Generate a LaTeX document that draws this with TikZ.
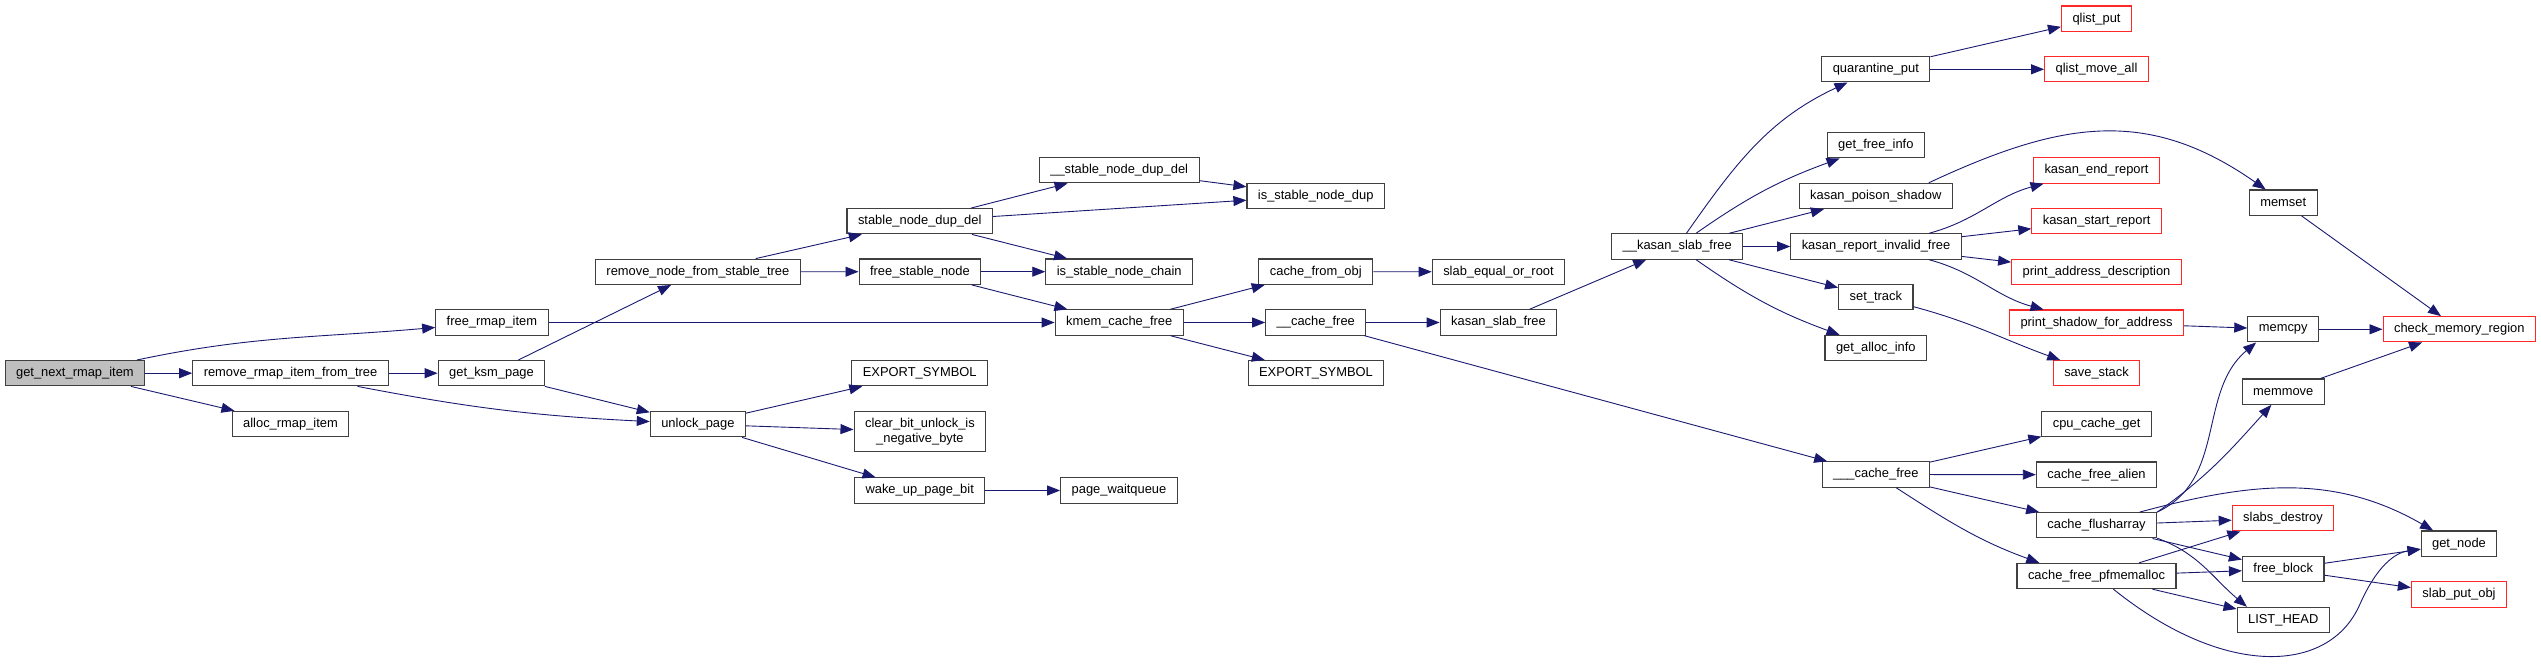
\documentclass[tikz,border=0pt]{standalone}
\usepackage{fontspec}
\setmainfont{Liberation Sans}
\usepackage{tikz}
\usetikzlibrary{arrows.meta}

\definecolor{edgeblue}{RGB}{25,25,112}
\definecolor{boxgray}{RGB}{191,191,191}
\definecolor{boxred}{RGB}{255,40,40}

\begin{document}
\begin{tikzpicture}[
    x=1pt, y=1pt,
    func/.style={rectangle, draw=black!75, line width=1.1pt, fill=white, inner xsep=11pt, inner ysep=0pt, minimum height=25.3pt, align=center, font=\fontsize{12.9}{15.3}\selectfont},
    ext/.style={func, draw=boxred},
    root/.style={func, fill=boxgray},
    call/.style={draw=edgeblue, line width=0.9pt, -{Triangle[length=13pt, width=10pt]}}
]
\useasboundingbox (0,0) rectangle (2541,664);

% Caller and ksm side
\node[root] (getnext) at (74.9,290.8) {get\_next\_rmap\_item};
\node[func] (rmitem) at (290.5,290.8) {remove\_rmap\_item\_from\_tree};
\node[func] (allocrmap) at (290.5,240) {alloc\_rmap\_item};
\node[func] (freermap) at (491.9,341.5) {free\_rmap\_item};
\node[func] (getksm) at (491.5,290.8) {get\_ksm\_page};
\node[func] (rmnode) at (697.9,392.2) {remove\_node\_from\_stable\_tree};
\node[func] (unlock) at (697.9,239.8) {unlock\_page};
\node[func] (dupdel) at (919.7,442.8) {stable\_node\_dup\_del};
\node[func] (freestable) at (919.9,392.3) {free\_stable\_node};
\node[func] (exportA) at (919.7,290.8) {EXPORT\_SYMBOL};
\node[func, minimum height=40.3pt] (clearbit) at (919.9,232.2) {clear\_bit\_unlock\_is\\\_negative\_byte};
\node[func] (wakeup) at (919.7,173.5) {wake\_up\_page\_bit};
\node[func] (dupdelint) at (1119.2,493.8) {\_\_stable\_node\_dup\_del};
\node[func] (isdup) at (1315.7,468.2) {is\_stable\_node\_dup};
\node[func] (ischain) at (1119.2,392.3) {is\_stable\_node\_chain};
\node[func] (kmemfree) at (1119.2,341.5) {kmem\_cache\_free};
\node[func] (waitq) at (1119,173.5) {page\_waitqueue};

% Slab free path
\node[func] (fromobj) at (1315.8,392.3) {cache\_from\_obj};
\node[func] (cachefree) at (1315.8,341.5) {\_\_cache\_free};
\node[func] (exportB) at (1316,290.8) {EXPORT\_SYMBOL};
\node[func] (slabeq) at (1498.5,392.2) {slab\_equal\_or\_root};
\node[func] (kslabfree) at (1498.5,341.5) {kasan\_slab\_free};
\node[func] (kslabfreeint) at (1677.2,417.5) {\_\_kasan\_slab\_free};
\node[func] (quarput) at (1875.8,594.7) {quarantine\_put};
\node[func] (getfree) at (1875.8,518.7) {get\_free\_info};
\node[func] (poison) at (1875.8,468) {kasan\_poison\_shadow};
\node[func] (invalid) at (1876,417.5) {kasan\_report\_invalid\_free};
\node[func] (settrack) at (1875.8,366.7) {set\_track};
\node[func] (getalloc) at (1875.8,316) {get\_alloc\_info};
\node[func] (cachefreeint) at (1875.8,189.5) {\_\_\_cache\_free};

% Right columns
\node[ext] (qput) at (2096.5,645.3) {qlist\_put};
\node[ext] (qmove) at (2096.5,594.7) {qlist\_move\_all};
\node[ext] (endrep) at (2096.5,493.5) {kasan\_end\_report};
\node[ext] (startrep) at (2096.6,442.7) {kasan\_start\_report};
\node[ext] (addrdesc) at (2096.5,392) {print\_address\_description};
\node[ext] (shadow) at (2096.5,341.3) {print\_shadow\_for\_address};
\node[ext] (savestack) at (2096.5,290.7) {save\_stack};
\node[func] (cpuget) at (2096.6,240) {cpu\_cache\_get};
\node[func] (alien) at (2096.5,189.3) {cache\_free\_alien};
\node[func] (flush) at (2096.5,138.7) {cache\_flusharray};
\node[func] (pfmem) at (2096.5,88) {cache\_free\_pfmemalloc};
\node[func] (memset) at (2283.2,461.3) {memset};
\node[func] (memcpy) at (2283.2,334.7) {memcpy};
\node[func] (memmove) at (2283.2,272.3) {memmove};
\node[ext] (slabsdes) at (2283,145.7) {slabs\_destroy};
\node[func] (freeblock) at (2283.2,94.7) {free\_block};
\node[func] (listhead) at (2283.2,44) {LIST\_HEAD};
\node[ext] (checkmem) at (2459.3,334.7) {check\_memory\_region};
\node[func] (getnode) at (2459,120.3) {get\_node};
\node[ext] (putobj) at (2459,69.5) {slab\_put\_obj};

% Calls - left part
\draw[call] (getnext) to[out=12,in=185] (freermap);
\draw[call] (getnext) -- (rmitem);
\draw[call] (getnext) -- (allocrmap);
\draw[call] (rmitem) -- (getksm);
\draw[call] (rmitem) to[bend right=4] (unlock);
\draw[call] (getksm) -- (rmnode);
\draw[call] (getksm) -- (unlock);
\draw[call] (freermap) -- (kmemfree);
\draw[call] (rmnode) -- (dupdel);
\draw[call] (rmnode) -- (freestable);
\draw[call] (dupdel) -- (dupdelint);
\draw[call] (dupdel) -- (isdup);
\draw[call] (dupdel) -- (ischain);
\draw[call] (dupdelint) -- (isdup);
\draw[call] (freestable) -- (ischain);
\draw[call] (freestable) -- (kmemfree);
\draw[call] (unlock) -- (exportA);
\draw[call] (unlock) -- (clearbit);
\draw[call] (unlock) -- (wakeup);
\draw[call] (wakeup) -- (waitq);
\draw[call] (kmemfree) -- (fromobj);
\draw[call] (kmemfree) -- (cachefree);
\draw[call] (kmemfree) -- (exportB);
\draw[call] (fromobj) -- (slabeq);
\draw[call] (cachefree) -- (kslabfree);
\draw[call] (cachefree) -- (cachefreeint);
\draw[call] (kslabfree) -- (kslabfreeint);

% Calls - kasan part
\draw[call] (kslabfreeint) to[out=55,in=205] (quarput);
\draw[call] (kslabfreeint) to[out=35,in=200] (getfree);
\draw[call] (kslabfreeint) -- (poison);
\draw[call] (kslabfreeint) -- (invalid);
\draw[call] (kslabfreeint) -- (settrack);
\draw[call] (kslabfreeint) to[out=-35,in=160] (getalloc);
\draw[call] (quarput) -- (qput);
\draw[call] (quarput) -- (qmove);
\draw[call] (poison.14) to[out=25,in=145,looseness=1.1] (memset.143);
\draw[call] (invalid.14) to[out=15,in=195] (endrep.194);
\draw[call] (invalid) -- (startrep);
\draw[call] (invalid) -- (addrdesc);
\draw[call] (invalid.-14) to[out=-15,in=165] (shadow.166);
\draw[call] (settrack.-14) to[out=-15,in=160] (savestack.160);
\draw[call] (shadow) -- (memcpy);
\draw[call] (memset) -- (checkmem);
\draw[call] (memcpy) -- (checkmem);
\draw[call] (memmove) -- (checkmem);

% Calls - ___cache_free part
\draw[call] (cachefreeint) -- (cpuget);
\draw[call] (cachefreeint) -- (alien);
\draw[call] (cachefreeint) -- (flush);
\draw[call] (cachefreeint) to[out=-33,in=160] (pfmem.167);
\draw[call] (flush.north east) to[out=25,in=220] (memcpy.206);
\draw[call] (flush.north east) to[out=35,in=228] (memmove);
\draw[call] (flush.17) to[out=15,in=150] (getnode.153);
\draw[call] (flush) -- (slabsdes);
\draw[call] (flush) -- (freeblock);
\draw[call] (flush.-12) to[out=-20,in=140] (listhead.160);
\draw[call] (pfmem) -- (slabsdes);
\draw[call] (pfmem) -- (freeblock);
\draw[call] (pfmem) -- (listhead);
\draw[call] (pfmem.-38) .. controls (2225,-15) and (2330,-10) .. (2360,60) .. controls (2380,105) and (2400,112) .. (getnode);
\draw[call] (freeblock) -- (getnode);
\draw[call] (freeblock) -- (putobj);

\end{tikzpicture}
\end{document}
